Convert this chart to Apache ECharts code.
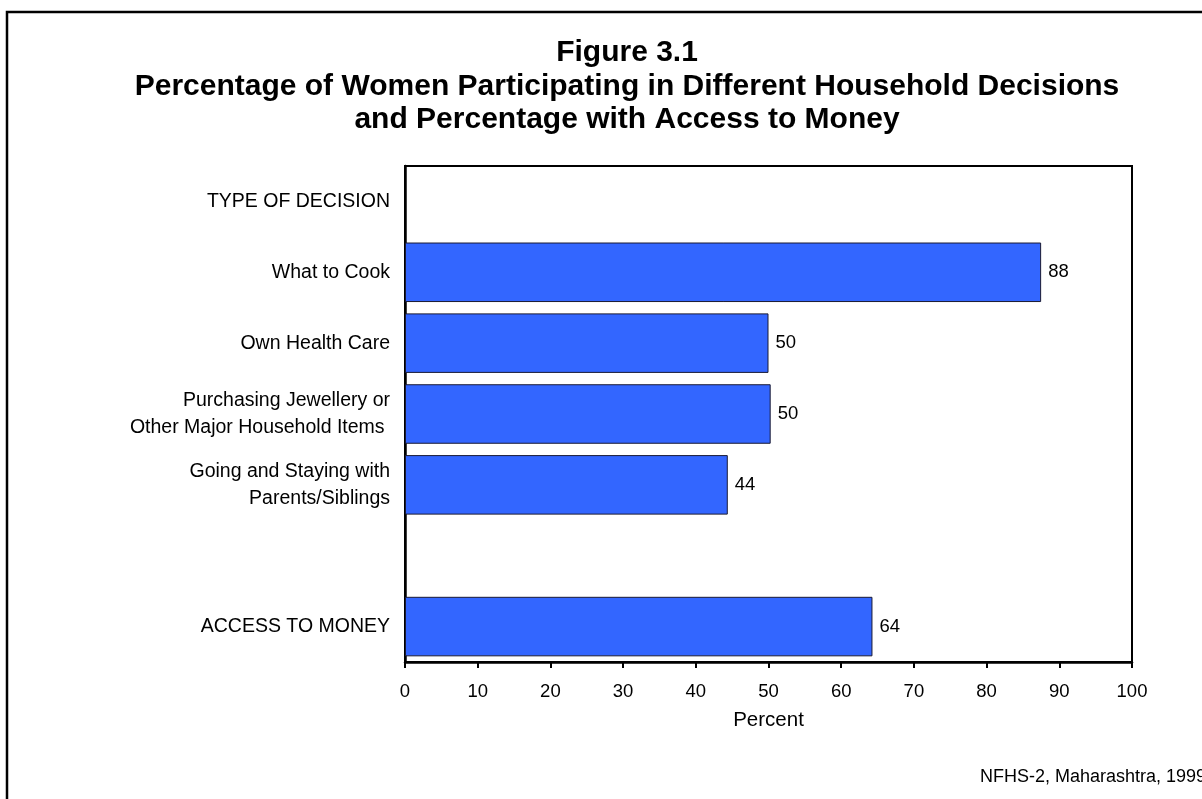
<!DOCTYPE html>
<html>
<head>
<meta charset="utf-8">
<script src="https://cdn.jsdelivr.net/npm/echarts@6/dist/echarts.min.js"></script>
<style>html,body{margin:0;padding:0;background:#fff;}#c{width:1202px;height:799px;}</style>
</head>
<body>
<div id="c"></div>
<script>
var categories = ['TYPE OF DECISION', 'What to Cook', 'Own Health Care', 'Purchasing Jewellery or\nOther Major Household Items ', 'Going and Staying with\nParents/Siblings', ' ', 'ACCESS TO MONEY'];
var values = [null, 87.5, 50.0, 50.3, 44.4, null, 64.3];
var xTicks = [0, 10, 20, 30, 40, 50, 60, 70, 80, 90, 100];
var titleLines = ['Figure 3.1', 'Percentage of Women Participating in Different Household Decisions', 'and Percentage with Access to Money'];
var sourceNote = 'NFHS-2, Maharashtra, 1999';

var FONT = "'Liberation Sans', Arial, sans-serif";
var chart = echarts.init(document.getElementById('c'), null, {renderer: 'canvas'});
chart.setOption({
  backgroundColor: '#fff',
  animation: false,
  title: {
    text: titleLines.join('\n'),
    left: 627,
    top: 36,
    textAlign: 'center',
    padding: 0,
    textStyle: {fontFamily: FONT, fontSize: 30, fontWeight: 'bold', color: '#000', lineHeight: 33.5}
  },
  grid: {left: 405, right: 70, top: 166, bottom: 137, show: true, borderColor: '#000', borderWidth: 2, containLabel: false},
  xAxis: {
    type: 'value',
    min: xTicks[0],
    max: xTicks[xTicks.length - 1],
    interval: xTicks[1] - xTicks[0],
    name: 'Percent',
    nameLocation: 'middle',
    nameGap: 48,
    nameTextStyle: {fontFamily: FONT, fontSize: 20.5, color: '#000'},
    axisLine: {show: true, lineStyle: {color: '#000', width: 2.5}},
    axisTick: {show: true, length: 6, lineStyle: {color: '#000', width: 2}},
    axisLabel: {fontFamily: FONT, fontSize: 18.5, color: '#000', margin: 20},
    splitLine: {show: false}
  },
  yAxis: {
    type: 'category',
    data: categories,
    inverse: true,
    axisLine: {show: true, lineStyle: {color: '#000', width: 2.5}},
    axisTick: {show: false},
    axisLabel: {fontFamily: FONT, fontSize: 19.5, color: '#000', margin: 15, lineHeight: 27, align: 'right'}
  },
  series: [{
    type: 'bar',
    data: values,
    barCategoryGap: '16%',
    itemStyle: {color: '#3366FF', borderColor: '#1a1a33', borderWidth: 1},
    label: {
      show: true,
      position: 'right',
      distance: 7,
      fontFamily: FONT,
      fontSize: 18.5,
      color: '#000',
      formatter: function (p) { return p.value == null ? '' : Math.round(p.value); }
    }
  }],
  graphic: [
    {type: 'rect', shape: {x: 7, y: 12, width: 1400, height: 1000}, style: {fill: null, stroke: '#000', lineWidth: 2.5}, silent: true, z: 10},
    {type: 'text', left: 980, top: 768, style: {text: sourceNote, fontFamily: FONT, fontSize: 18, fill: '#000'}}
  ]
});
</script>
</body>
</html>
